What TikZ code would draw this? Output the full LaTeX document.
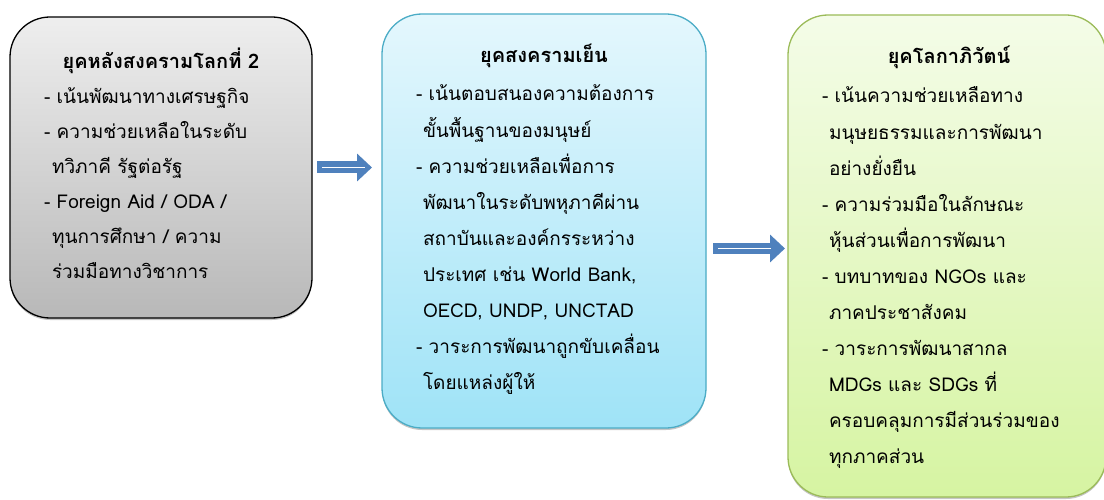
\documentclass[tikz,border=0pt]{standalone}
\usepackage{fontspec}
\newfontfamily\thaifont[Script=Thai]{Loma}
\usetikzlibrary{arrows.meta,shadows}
\definecolor{grayTop}{HTML}{EEEEEE}
\definecolor{grayBot}{HTML}{B8B8B8}
\definecolor{blueTop}{HTML}{E4F7FD}
\definecolor{blueBot}{HTML}{9FE3F7}
\definecolor{blueLine}{HTML}{4BACC6}
\definecolor{greenTop}{HTML}{F4FCE8}
\definecolor{greenBot}{HTML}{D6F4A2}
\definecolor{greenLine}{HTML}{9BBB59}
\definecolor{arrBlue}{HTML}{4F81BD}
\begin{document}
\begin{tikzpicture}[x=1pt,y=-1pt,
  every node/.style={font=\thaifont\fontsize{19}{19}\selectfont, inner sep=0pt, outer sep=0pt},
  eraBox/.style={rounded corners=40pt, line width=1.3pt,
    drop shadow={shadow xshift=0pt, shadow yshift=-2pt, opacity=0.45}},
  grayBox/.style={eraBox, draw=black, top color=grayTop, bottom color=grayBot},
  blueBox/.style={eraBox, draw=blueLine, top color=blueTop, bottom color=blueBot},
  greenBox/.style={eraBox, draw=greenLine, top color=greenTop, bottom color=greenBot},
  titleText/.style={anchor=base, font=\thaifont\bfseries\fontsize{20}{20}\selectfont},
  bodyText/.style={anchor=base west},
  bigArrow/.style={draw=arrBlue, line width=12pt, -{Triangle[length=15pt,width=27pt]}, arrBlue},
  arrowStripe/.style={draw=white, line width=1.5pt}
]
\useasboundingbox (0,0) rectangle (1104,500);

% boxes
\node[grayBox, minimum width=302pt, minimum height=301pt] (b1) at (161,167.5) {};
\node[blueBox, minimum width=324pt, minimum height=414pt] (b2) at (544,221) {};
\node[greenBox, minimum width=318pt, minimum height=482pt] (b3) at (947,256) {};

% box 1 text
\node[titleText] (t1) at (161,69) {ยุคหลังสงครามโลกที่ 2};
\node[bodyText] (x1) at (44,104) {\def\arraystretch{1.84}\begin{tabular}[t]{@{}l@{}}
- เน้นพัฒนาทางเศรษฐกิจ\\
- ความช่วยเหลือในระดับ\\
\hspace*{8pt}ทวิภาคี รัฐต่อรัฐ\\
- Foreign Aid / ODA /\\
\hspace*{8pt}ทุนการศึกษา / ความ\\
\hspace*{8pt}ร่วมมือทางวิชาการ
\end{tabular}};

% box 2 text
\node[titleText] (t2) at (544,63) {ยุคสงครามเย็น};
\node[bodyText] (x2) at (416,101) {\def\arraystretch{1.895}\begin{tabular}[t]{@{}l@{}}
- เน้นตอบสนองความต้องการ\\
\hspace*{7pt}ขั้นพื้นฐานของมนุษย์\\
- ความช่วยเหลือเพื่อการ\\
\hspace*{7pt}พัฒนาในระดับพหุภาคีผ่าน\\
\hspace*{7pt}สถาบันและองค์กรระหว่าง\\
\hspace*{7pt}ประเทศ เช่น World Bank,\\
\hspace*{7pt}OECD, UNDP, UNCTAD\\
- วาระการพัฒนาถูกขับเคลื่อน\\
\hspace*{7pt}โดยแหล่งผู้ให้
\end{tabular}};

% box 3 text
\node[titleText] (t3) at (949,64) {ยุคโลกาภิวัตน์};
\node[bodyText] (x3) at (822,103) {\def\arraystretch{1.895}\begin{tabular}[t]{@{}l@{}}
- เน้นความช่วยเหลือทาง\\
\hspace*{7pt}มนุษยธรรมและการพัฒนา\\
\hspace*{7pt}อย่างยั่งยืน\\
- ความร่วมมือในลักษณะ\\
\hspace*{7pt}หุ้นส่วนเพื่อการพัฒนา\\
- บทบาทของ NGOs และ\\
\hspace*{7pt}ภาคประชาสังคม\\
- วาระการพัฒนาสากล\\
\hspace*{7pt}MDGs และ SDGs ที่\\
\hspace*{7pt}ครอบคลุมการมีส่วนร่วมของ\\
\hspace*{7pt}ทุกภาคส่วน
\end{tabular}};

% arrows
\coordinate (a1s) at (b1.east);
\coordinate (a1e) at (b2.west |- b1.east);
\draw[bigArrow, shorten <=5pt, shorten >=10pt] (a1s) -- (a1e);
\draw[arrowStripe, shorten <=10pt, shorten >=17pt] (a1s) -- (a1e);

\coordinate (a2s) at (b2.east |- 0,248.5);
\coordinate (a2e) at (b3.west |- 0,248.5);
\draw[bigArrow, line width=11pt, shorten <=7pt, shorten >=3pt] (a2s) -- (a2e);
\draw[arrowStripe, shorten <=12pt, shorten >=17pt] (a2s) -- (a2e);
\end{tikzpicture}
\end{document}
